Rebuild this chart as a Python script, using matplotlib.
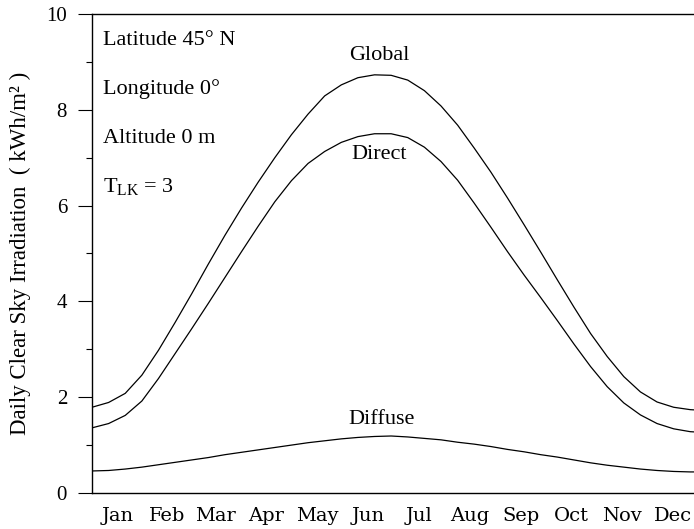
import matplotlib
matplotlib.use("Agg")
import matplotlib.pyplot as plt
from matplotlib.ticker import MultipleLocator

# Day of year sampling (every 10 days)
days = [0, 10, 20, 30, 40, 50, 60, 70, 80, 90, 100, 110, 120, 130, 140, 150, 160, 170,
        180, 190, 200, 210, 220, 230, 240, 250, 260, 270, 280, 290, 300, 310, 320, 330,
        340, 350, 360, 365]

global_irr = [1.79, 1.89, 2.08, 2.46, 2.98, 3.56, 4.16, 4.78, 5.38, 5.95, 6.49, 7.00,
              7.48, 7.91, 8.29, 8.52, 8.67, 8.73, 8.72, 8.62, 8.40, 8.08, 7.68, 7.20,
              6.70, 6.16, 5.60, 5.03, 4.45, 3.88, 3.33, 2.85, 2.43, 2.11, 1.90, 1.79,
              1.74, 1.73]

direct_irr = [1.36, 1.45, 1.62, 1.92, 2.39, 2.91, 3.43, 3.96, 4.50, 5.04, 5.57, 6.08,
              6.52, 6.88, 7.13, 7.32, 7.44, 7.50, 7.50, 7.42, 7.22, 6.92, 6.53, 6.05,
              5.55, 5.04, 4.55, 4.08, 3.60, 3.11, 2.64, 2.22, 1.88, 1.63, 1.45, 1.34,
              1.28, 1.27]

diffuse_irr = [0.46, 0.47, 0.50, 0.54, 0.59, 0.64, 0.69, 0.74, 0.80, 0.85, 0.90, 0.95,
               1.00, 1.05, 1.09, 1.13, 1.16, 1.18, 1.19, 1.17, 1.14, 1.11, 1.06, 1.02,
               0.97, 0.91, 0.86, 0.80, 0.75, 0.69, 0.63, 0.58, 0.54, 0.50, 0.47, 0.45,
               0.44, 0.44]

month_labels = ["Jan", "Feb", "Mar", "Apr", "May", "Jun", "Jul", "Aug", "Sep", "Oct", "Nov", "Dec"]
month_mid = [15.5, 45, 74.5, 105, 135.5, 166, 196.5, 227.5, 258, 288.5, 319, 349.5]

info_lines = ["Latitude 45° N", "Longitude 0°", "Altitude 0 m", r"T$_{\mathregular{LK}}$ = 3"]

serif = ["Liberation Serif", "DejaVu Serif"]
plt.rcParams["font.family"] = serif
plt.rcParams["mathtext.fontset"] = "custom"
plt.rcParams["mathtext.rm"] = "Liberation Serif"

fig = plt.figure(figsize=(6.94, 5.29), dpi=100)
W, H = 694, 529
x0, x1 = 92, 698.6
y0, y1 = 493, 14
ax = fig.add_axes([x0 / W, 1 - y0 / H, (x1 - x0) / W, (y0 - y1) / H])

lw = 0.9
ax.plot(days, global_irr, color="black", lw=lw)
ax.plot(days, direct_irr, color="black", lw=lw)
ax.plot(days, diffuse_irr, color="black", lw=lw)

ax.set_xlim(0, 365)
ax.set_ylim(0, 10)

ax.spines["right"].set_visible(False)
for s in ["left", "top", "bottom"]:
    ax.spines[s].set_linewidth(1.0)

ax.yaxis.set_major_locator(MultipleLocator(2))
ax.yaxis.set_minor_locator(MultipleLocator(1))
ax.tick_params(axis="y", which="major", direction="out", length=10, width=0.8,
               labelsize=15, pad=8)
ax.tick_params(axis="y", which="minor", direction="out", length=4, width=0.8)

ax.set_xticks(month_mid)
ax.set_xticklabels(month_labels, family=["DejaVu Serif"], fontsize=14)
ax.tick_params(axis="x", length=0, pad=10)

ax.set_ylabel("Daily Clear Sky Irradiation  ( kWh/m² )", fontsize=16.5, labelpad=11)

for i, t in enumerate(info_lines):
    ax.text(6.5, 9.45 - i * 1.02, t, fontsize=16, ha="left", va="center")

ax.text(173, 9.14, "Global", fontsize=16, ha="center", va="center")
ax.text(173, 7.06, "Direct", fontsize=16, ha="center", va="center")
ax.text(174, 1.54, "Diffuse", fontsize=16, ha="center", va="center")

fig.savefig("out.png", dpi=100)
